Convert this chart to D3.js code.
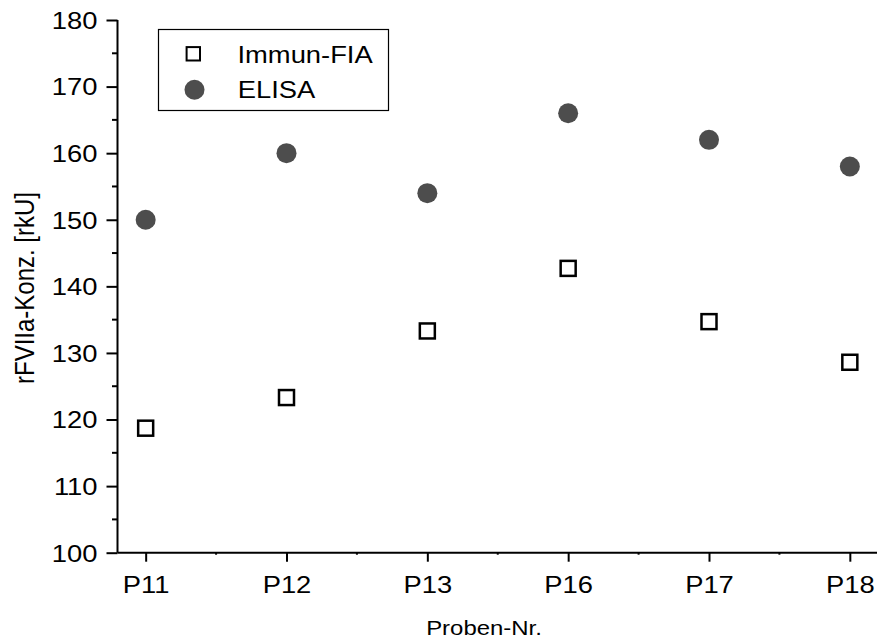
<!DOCTYPE html>
<html>
<head>
<meta charset="utf-8">
<script src="https://cdn.jsdelivr.net/npm/d3@7"></script>
<style>
  html, body { margin: 0; padding: 0; background: #fff; }
  svg { display: block; font-family: "Liberation Sans", Arial, sans-serif; }
</style>
</head>
<body>
<svg id="chart" width="877" height="641"></svg>
<script>
// Sample identifiers along the x axis
const categories = ["P11", "P12", "P13", "P16", "P17", "P18"];
// rFVIIa concentration [rkU] per method
const immunFIA = [118.7, 123.3, 133.3, 142.7, 134.7, 128.6];
const elisa = [150, 160, 154, 166, 162, 158];
// y-axis tick values
const yTicks = [100, 110, 120, 130, 140, 150, 160, 170, 180];
const yMinorTicks = [105, 115, 125, 135, 145, 155, 165, 175];
const xMinorTicks = [1.5, 2.5, 3.5, 4.5, 5.5];

(function () {
  const svg = d3.select("#chart");
  const plotLeft = 117.5, plotRight = 878, plotTop = 20, plotBottom = 552.7;
  const fs = 24;          // label font size
  const wide = 1.14;      // horizontal widening of the lettering

  const x = d3.scaleLinear().domain([0.8, 6.2]).range([plotLeft, plotRight]);
  const y = d3.scaleLinear().domain([100, 180]).range([plotBottom, plotTop]);

  // y axis with major and minor ticks
  const yAxis = svg.append("g").attr("transform", `translate(${plotLeft},0)`)
    .call(d3.axisLeft(y).tickValues(yTicks).tickSize(11).tickPadding(9).tickFormat(d3.format("d")));
  yAxis.append("g").attr("class", "minor").selectAll("line").data(yMinorTicks).join("line")
    .attr("x1", -5.5).attr("x2", 0).attr("y1", d => y(d)).attr("y2", d => y(d));
  yAxis.selectAll(".tick text")
    .attr("x", 0).attr("dy", "0.35em")
    .attr("transform", `translate(-20,0) scale(${wide},1)`);

  // x axis with category ticks and small in-between marks
  const xAxis = svg.append("g").attr("transform", `translate(0,${plotBottom})`)
    .call(d3.axisBottom(x).tickValues(d3.range(1, categories.length + 1)).tickSize(9).tickPadding(6)
      .tickFormat(i => categories[i - 1]));
  xAxis.append("g").attr("class", "minor").selectAll("line").data(xMinorTicks).join("line")
    .attr("x1", d => x(d)).attr("x2", d => x(d)).attr("y1", 0).attr("y2", 2);
  xAxis.selectAll(".tick text")
    .attr("y", 40).attr("dy", null)
    .attr("transform", `scale(${wide},1)`);

  yAxis.select(".domain").attr("d", `M0,${plotTop}V${plotBottom}`);
  xAxis.select(".domain").attr("d", `M${plotLeft},0H${plotRight}`);
  svg.selectAll(".domain").attr("stroke", "#000").attr("stroke-width", 2);
  svg.selectAll(".tick line, .minor line").attr("stroke", "#000").attr("stroke-width", 2);
  svg.selectAll(".tick text").attr("fill", "#000").attr("font-size", fs)
    .attr("font-family", "Liberation Sans, Arial, sans-serif");

  // ELISA markers
  svg.append("g").selectAll("circle").data(elisa).join("circle")
    .attr("cx", (d, i) => x(i + 1)).attr("cy", d => y(d)).attr("r", 10)
    .attr("fill", "#4d4d4d");

  // Immun-FIA markers
  const s = 15;
  svg.append("g").selectAll("rect").data(immunFIA).join("rect")
    .attr("x", (d, i) => x(i + 1) - s / 2).attr("y", d => y(d) - s / 2)
    .attr("width", s).attr("height", s)
    .attr("fill", "#fff").attr("stroke", "#000").attr("stroke-width", 2.5);

  // axis titles
  svg.append("text").attr("transform", `translate(484,635) scale(${wide},1)`)
    .attr("text-anchor", "middle").attr("font-size", 21).text("Proben-Nr.");
  svg.append("text").attr("transform", `translate(34,288) scale(${wide},1) rotate(-90)`)
    .attr("text-anchor", "middle").attr("font-size", fs).text("rFVIIa-Konz. [rkU]");

  // legend
  const lg = svg.append("g");
  lg.append("rect").attr("x", 158.5).attr("y", 29.5).attr("width", 230).attr("height", 81)
    .attr("fill", "#fff").attr("stroke", "#000").attr("stroke-width", 1.2);
  lg.append("rect").attr("x", 193.3 - 6.7).attr("y", 53.8 - 6.7).attr("width", 13.4).attr("height", 13.4)
    .attr("fill", "#fff").attr("stroke", "#000").attr("stroke-width", 2);
  lg.append("circle").attr("cx", 194.5).attr("cy", 89.7).attr("r", 10).attr("fill", "#4d4d4d");
  lg.append("text").attr("transform", `translate(237.5,62.7) scale(${wide},1)`)
    .attr("font-size", fs).text("Immun-FIA");
  lg.append("text").attr("transform", `translate(237.8,98.3) scale(${wide},1)`)
    .attr("font-size", fs).text("ELISA");
})();
</script>
</body>
</html>
